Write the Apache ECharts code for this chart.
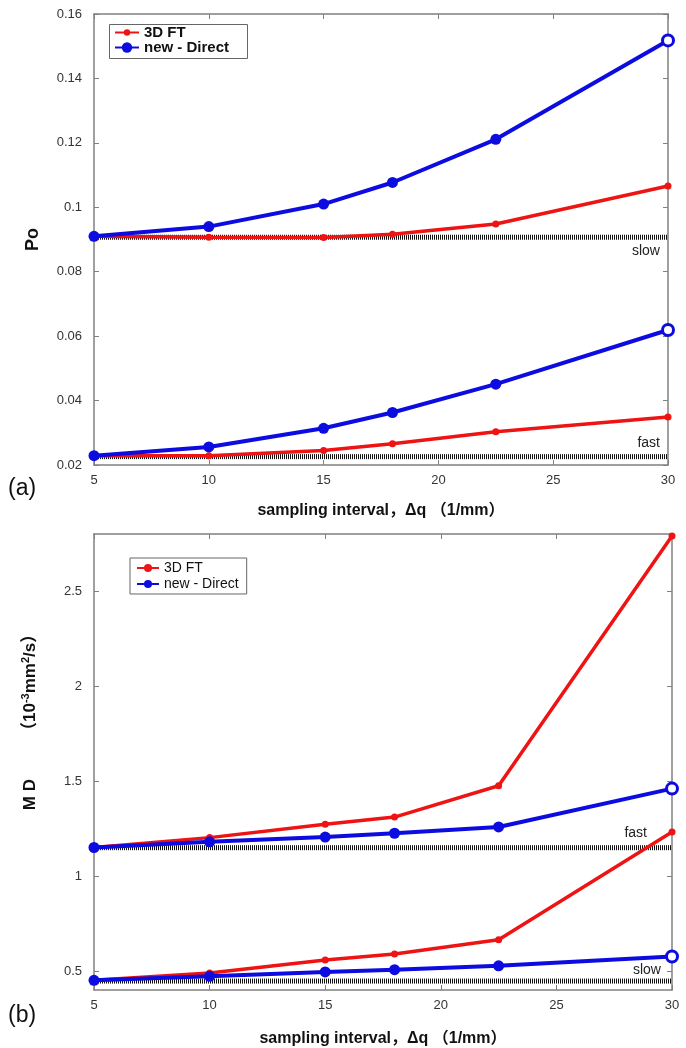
<!DOCTYPE html>
<html>
<head>
<meta charset="utf-8">
<script src="https://cdn.jsdelivr.net/npm/echarts@6/dist/echarts.min.js"></script>
<style>
html,body{margin:0;padding:0;background:#fff;}
#chart{width:686px;height:1048px;}
</style>
</head>
<body>
<div id="chart"></div>
<script>
// ---- data ----
const xValues = [5, 10, 15, 18, 22.5, 30];
const xTicks = [5, 10, 15, 20, 25, 30];

// (a) Po
const poSlowFT     = [0.0910, 0.0907, 0.0906, 0.0916, 0.0948, 0.1066];
const poSlowDirect = [0.0910, 0.0940, 0.1010, 0.1077, 0.1211, 0.1518];
const poFastFT     = [0.0229, 0.0229, 0.0245, 0.0266, 0.0303, 0.0349];
const poFastDirect = [0.0229, 0.0256, 0.0314, 0.0363, 0.0451, 0.0619];
const poSlowRef = 0.0907;
const poFastRef = 0.0226;
const poTicks = [0.02, 0.04, 0.06, 0.08, 0.1, 0.12, 0.14, 0.16];

// (b) MD
const mdFastFT     = [1.150, 1.202, 1.272, 1.310, 1.475, 2.790];
const mdFastDirect = [1.150, 1.180, 1.205, 1.225, 1.258, 1.460];
const mdSlowFT     = [0.451, 0.490, 0.558, 0.590, 0.665, 1.232];
const mdSlowDirect = [0.451, 0.472, 0.495, 0.507, 0.527, 0.576];
const mdFastRef = 1.149;
const mdSlowRef = 0.447;
const mdTicks = [0.5, 1, 1.5, 2, 2.5];

const seriesNames = ['3D FT', 'new - Direct'];

// ---- styling ----
const RED = '#ee1414';
const BLUE = '#0c0ce0';
const AXIS = '#808080';
const FONT = '"Liberation Sans", Arial, "Noto Sans CJK SC", sans-serif';

const pair = (xs, ys) => xs.map((x, i) => [x, ys[i]]);

function ftSeries(vals, gi) {
  return {
    type: 'line', name: seriesNames[0], xAxisIndex: gi * 2, yAxisIndex: gi * 2,
    data: pair(xValues, vals), symbol: 'circle', symbolSize: 7,
    lineStyle: { color: RED, width: 3.5 }, itemStyle: { color: RED },
    z: 3
  };
}
function directSeries(vals, gi) {
  const d = pair(xValues, vals).map((p, i, arr) => i === arr.length - 1
    ? { value: p, itemStyle: { color: '#fff', borderColor: BLUE, borderWidth: 3 } }
    : p);
  return {
    type: 'line', name: seriesNames[1], xAxisIndex: gi * 2, yAxisIndex: gi * 2,
    data: d, symbol: 'circle', symbolSize: 11,
    lineStyle: { color: BLUE, width: 4 }, itemStyle: { color: BLUE },
    z: 4
  };
}
function refSeries(level, gi, text, dist, dy) {
  const x0 = xValues[0], x1 = xValues[xValues.length - 1];
  return {
    type: 'line', name: 'ref ' + text, xAxisIndex: gi * 2, yAxisIndex: gi * 2,
    data: [
      { value: [x0, level], symbolSize: 0.1, itemStyle: { color: 'transparent' } },
      { value: [x1, level], symbolSize: 0.1, itemStyle: { color: 'transparent' },
        label: { show: true, formatter: text, position: 'left', distance: dist, offset: [0, dy],
                 color: '#222', fontSize: 14, fontFamily: FONT } }
    ],
    symbol: 'circle', showSymbol: true,
    lineStyle: { color: '#111', width: 5, type: [1, 1] },
    z: 2, silent: true
  };
}

function xAxisMain(gi) {
  return {
    type: 'value', gridIndex: gi, min: 5, max: 30, interval: 5,
    name: 'sampling interval，Δq （1/mm）', nameLocation: 'middle', nameGap: gi === 0 ? 38 : 41,
    nameTextStyle: { fontFamily: FONT, fontWeight: 'bold', fontSize: 16, color: '#111' },
    axisLine: { show: true, lineStyle: { color: AXIS, width: 1.5 } },
    axisTick: { show: true, inside: true, length: 5, lineStyle: { color: AXIS } },
    axisLabel: { fontFamily: FONT, fontSize: 13, color: '#333', margin: 9 },
    splitLine: { show: false }
  };
}
function xAxisTop(gi) {
  return {
    type: 'value', gridIndex: gi, position: 'top', min: 5, max: 30, interval: 5,
    axisLine: { show: true, lineStyle: { color: AXIS, width: 1.5 } },
    axisTick: { show: true, inside: true, length: 5, lineStyle: { color: AXIS } },
    axisLabel: { show: false }, splitLine: { show: false }
  };
}

const option = {
  animation: false,
  backgroundColor: '#fff',
  textStyle: { fontFamily: FONT },
  grid: [
    { left: 94, right: 18, top: 14, height: 451 },
    { left: 94, right: 14, top: 534, height: 457 }
  ],
  xAxis: [xAxisMain(0), xAxisTop(0), xAxisMain(1), xAxisTop(1)],
  yAxis: [
    {
      type: 'value', gridIndex: 0, min: 0.02, max: 0.16, interval: 0.02,
      name: 'Po', nameLocation: 'middle', nameGap: 52,
      nameTextStyle: { fontFamily: FONT, fontWeight: 'bold', fontSize: 18, color: '#111' },
      axisLine: { show: true, lineStyle: { color: AXIS, width: 1.5 } },
      axisTick: { show: true, inside: true, length: 5, lineStyle: { color: AXIS } },
      axisLabel: { fontFamily: FONT, fontSize: 13, color: '#333', margin: 12,
                   formatter: v => String(Math.round(v * 100) / 100) },
      splitLine: { show: false }
    },
    {
      type: 'value', gridIndex: 0, position: 'right', min: 0.02, max: 0.16, interval: 0.02,
      axisLine: { show: true, lineStyle: { color: AXIS, width: 1.5 } },
      axisTick: { show: true, inside: true, length: 5, lineStyle: { color: AXIS } },
      axisLabel: { show: false }, splitLine: { show: false }
    },
    {
      type: 'value', gridIndex: 1, min: 0.4, max: 2.8,
      axisLine: { show: true, lineStyle: { color: AXIS, width: 1.5 } },
      axisTick: { show: true, inside: true, length: 5, lineStyle: { color: AXIS }, customValues: mdTicks },
      axisLabel: { fontFamily: FONT, fontSize: 13, color: '#333', margin: 12, customValues: mdTicks },
      splitLine: { show: false }
    },
    {
      type: 'value', gridIndex: 1, position: 'right', min: 0.4, max: 2.8,
      axisLine: { show: true, lineStyle: { color: AXIS, width: 1.5 } },
      axisTick: { show: true, inside: true, length: 5, lineStyle: { color: AXIS }, customValues: mdTicks },
      axisLabel: { show: false, customValues: mdTicks }, splitLine: { show: false }
    }
  ],
  legend: [
    {
      data: [seriesNames[0]], left: 114, top: 25, orient: 'vertical',
      itemWidth: 24, itemHeight: 8, padding: 0,
      textStyle: { fontFamily: FONT, fontWeight: 'bold', fontSize: 15, color: '#111' }
    },
    {
      data: [seriesNames[1]], left: 114, top: 40, orient: 'vertical',
      itemWidth: 24, itemHeight: 13, padding: 0,
      textStyle: { fontFamily: FONT, fontWeight: 'bold', fontSize: 15, color: '#111' }
    },
    {
      data: seriesNames, left: 130, top: 558, orient: 'vertical',
      itemWidth: 22, itemHeight: 10, itemGap: 2, padding: [3, 8, 3, 6],
      borderColor: '#666', borderWidth: 1,
      textStyle: { fontFamily: FONT, fontSize: 14, color: '#111' }
    }
  ],
  graphic: [
    { type: 'rect', left: 107, top: 22, shape: { width: 138, height: 34 },
      style: { fill: 'none', stroke: '#666', lineWidth: 1 }, z: 100 },
    { type: 'text', left: 8, top: 477, style: { text: '(a)', fontSize: 23, fontFamily: FONT, fill: '#111' } },
    { type: 'text', left: 8, top: 1004, style: { text: '(b)', fontSize: 23, fontFamily: FONT, fill: '#111' } },
    {
      type: 'text', x: 30, y: 718, rotation: Math.PI / 2,
      style: {
        text: '{b|M D}{sp|}{n|（10}{s|-3}{n|mm}{s|2}{n|/s）}',
        align: 'center', verticalAlign: 'middle',
        fill: '#111', fontFamily: FONT,
        rich: {
          b: { fontSize: 17, fontWeight: 'bold', fontFamily: FONT, fill: '#111' },
          sp: { width: 40 },
          n: { fontSize: 17, fontWeight: 'bold', fontFamily: FONT, fill: '#111' },
          s: { fontSize: 11, fontWeight: 'bold', fontFamily: FONT, fill: '#111', padding: [0, 0, 9, 0] }
        }
      }
    }
  ],
  series: [
    refSeries(poSlowRef, 0, 'slow', 8, 14),
    refSeries(poFastRef, 0, 'fast', 8, -13),
    ftSeries(poSlowFT, 0), ftSeries(poFastFT, 0),
    directSeries(poSlowDirect, 0), directSeries(poFastDirect, 0),
    refSeries(mdFastRef, 1, 'fast', 25, -15),
    refSeries(mdSlowRef, 1, 'slow', 11, -11),
    ftSeries(mdFastFT, 1), ftSeries(mdSlowFT, 1),
    directSeries(mdFastDirect, 1), directSeries(mdSlowDirect, 1)
  ]
};

const chart = echarts.init(document.getElementById('chart'), null, { renderer: 'canvas' });
chart.setOption(option);
</script>
</body>
</html>
